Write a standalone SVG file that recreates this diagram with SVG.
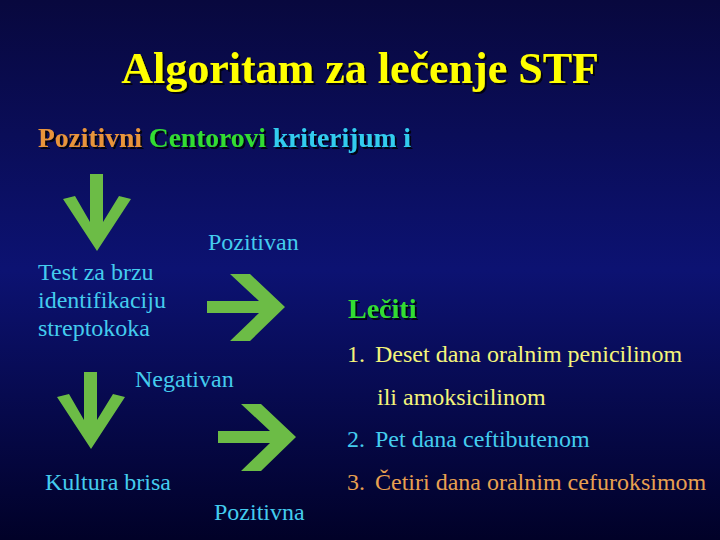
<svg xmlns="http://www.w3.org/2000/svg" width="720" height="540" viewBox="0 0 720 540">
  <defs>
    <linearGradient id="bg" x1="0" y1="0" x2="0" y2="1">
      <stop offset="0" stop-color="#08083e"/>
      <stop offset="0.5" stop-color="#0c1272"/>
      <stop offset="1" stop-color="#010128"/>
    </linearGradient>
    <filter id="sh" x="-5%" y="-20%" width="110%" height="140%">
      <feDropShadow dx="2" dy="2" stdDeviation="0.6" flood-color="#000000" flood-opacity="0.8"/>
    </filter>
    <polygon id="down" points="90,174 103,174 103,222 119,196 131,199 97,251 63,199 75,196 90,222" fill="#6cbc46"/>
    <polygon id="right" points="207,301 259,301 230,274 250,274 285,307 250,341 230,341 259,313 207,313" fill="#6cbc46"/>
  </defs>
  <style>
    text { font-family: "Liberation Serif", "Times New Roman", serif; }
    .b { font-weight: bold; }
    .cy { fill: #44ccee; font-size: 24px; }
  </style>
  <rect x="0" y="0" width="720" height="540" fill="url(#bg)"/>

  <g id="title">
    <text class="b" x="360" y="83" text-anchor="middle" font-size="44" fill="#ffff00" filter="url(#sh)">Algoritam za lečenje STF</text>
  </g>
  <g id="subtitle">
    <text class="b" x="38" y="147" font-size="27.5" filter="url(#sh)"><tspan fill="#e8943a">Pozitivni </tspan><tspan fill="#33dd33">Centorovi </tspan><tspan fill="#33ccee">kriterijum i</tspan></text>
  </g>

  <g id="connectors">
    <use href="#down"/>
    <use href="#down" transform="translate(-6,198)"/>
    <use href="#right"/>
    <use href="#right" transform="translate(11,130)"/>
  </g>

  <g id="test">
    <text class="cy" x="38" y="280">Test za brzu</text>
    <text class="cy" x="38" y="308">identifikaciju</text>
    <text class="cy" x="38" y="336">streptokoka</text>
  </g>
  <g id="pozitivan"><text class="cy" x="208" y="250">Pozitivan</text></g>
  <g id="negativan"><text class="cy" x="135" y="387">Negativan</text></g>
  <g id="kultura"><text class="cy" x="45" y="490">Kultura brisa</text></g>
  <g id="pozitivna"><text class="cy" x="214" y="520">Pozitivna</text></g>

  <g id="leciti">
    <text class="b" x="348" y="318" font-size="28" fill="#33dd33" filter="url(#sh)">Lečiti</text>
  </g>
  <g id="therapy" font-size="24">
    <text x="347" y="362" fill="#f4f47a">1.</text>
    <text x="375" y="362" fill="#f4f47a">Deset dana oralnim penicilinom</text>
    <text x="377" y="405" fill="#f4f47a">ili amoksicilinom</text>
    <text x="347" y="447" fill="#44ccee">2.</text>
    <text x="375" y="447" fill="#44ccee">Pet dana ceftibutenom</text>
    <text x="347" y="490" fill="#e8a050">3.</text>
    <text x="375" y="490" fill="#e8a050">Četiri dana oralnim cefuroksimom</text>
  </g>
</svg>
